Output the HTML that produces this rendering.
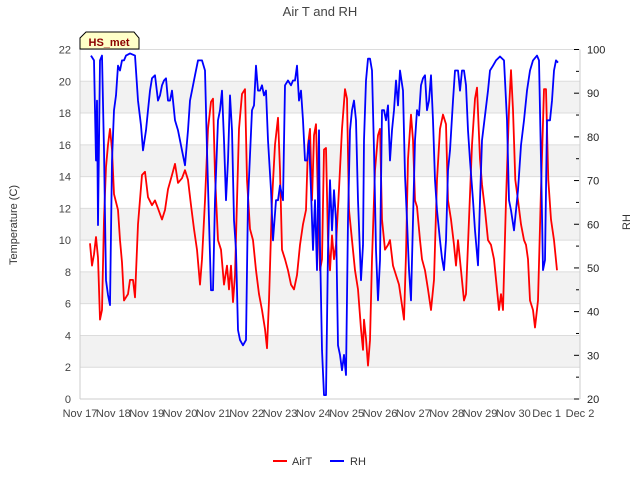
<!DOCTYPE html>
<html><head><meta charset="utf-8"><style>
body{margin:0;background:#fff;}
svg{display:block;font-family:"Liberation Sans","DejaVu Sans",sans-serif;}
</style></head><body>
<svg id="chart" width="640" height="480" viewBox="0 0 640 480">
<text x="320" y="16" text-anchor="middle" font-size="13" fill="#444">Air T and RH</text>
<g id="bands"></g>
<g id="grid"></g>
<g id="xaxis"></g>
<g id="yaxisL"></g>
<g id="yaxisR"></g>
<text transform="translate(17,225) rotate(-90)" text-anchor="middle" font-size="11" fill="#333">Temperature (C)</text>
<text transform="translate(630,222) rotate(-90)" text-anchor="middle" font-size="11" fill="#333">RH</text>
<g id="series"></g>
<g>
<path d="M80,49 L80,38 L86,32 L134,32 L139,38 L139,49 Z" fill="#ffffc8" stroke="#000" stroke-width="1"/>
<text x="109" y="46" text-anchor="middle" font-size="11" font-weight="bold" fill="#8b0000">HS_met</text>
</g>
<g>
<g><line x1="273" y1="461" x2="287" y2="461" stroke="#f00" stroke-width="2"/><text x="292" y="465" font-size="11" fill="#333">AirT</text></g>
<g><line x1="330" y1="461" x2="344" y2="461" stroke="#00f" stroke-width="2"/><text x="350" y="465" font-size="11" fill="#333">RH</text></g>
</g>
</svg>
<script>
const xTickLabels = ["Nov 17","Nov 18","Nov 19","Nov 20","Nov 21","Nov 22","Nov 23","Nov 24","Nov 25","Nov 26","Nov 27","Nov 28","Nov 29","Nov 30","Dec 1","Dec 2"];
const leftTicks = [0,2,4,6,8,10,12,14,16,18,20,22];
const rightTicks = [20,30,40,50,60,70,80,90,100];
const airTDays = [.30,.36,.42,.48,.54,.60,.66,.72,.78,.84,.90,.96,1.02,1.14,1.20,1.26,1.32,1.44,1.50,1.59,1.65,1.74,1.86,1.95,2.04,2.16,2.25,2.34,2.46,2.55,2.64,2.76,2.85,2.94,3.06,3.15,3.24,3.33,3.42,3.51,3.60,3.66,3.75,3.84,3.93,3.99,4.05,4.14,4.23,4.32,4.41,4.47,4.53,4.59,4.65,4.71,4.77,4.86,4.95,5.01,5.10,5.19,5.28,5.37,5.46,5.55,5.61,5.67,5.76,5.85,5.94,6.00,6.06,6.15,6.24,6.33,6.42,6.51,6.60,6.69,6.78,6.84,6.90,6.96,7.02,7.08,7.14,7.20,7.26,7.32,7.38,7.44,7.50,7.56,7.62,7.68,7.77,7.86,7.95,8.01,8.07,8.16,8.25,8.34,8.43,8.49,8.52,8.58,8.64,8.70,8.76,8.85,8.94,9.00,9.06,9.15,9.24,9.30,9.39,9.48,9.57,9.66,9.72,9.78,9.84,9.93,9.99,10.05,10.11,10.20,10.26,10.35,10.44,10.53,10.62,10.71,10.80,10.89,10.98,11.04,11.13,11.22,11.28,11.34,11.43,11.52,11.58,11.67,11.76,11.85,11.91,12.00,12.06,12.15,12.24,12.33,12.42,12.51,12.57,12.63,12.69,12.78,12.87,12.93,12.99,13.06,13.14,13.23,13.32,13.38,13.44,13.50,13.59,13.65,13.74,13.83,13.92,13.98,14.05,14.13,14.22,14.31];
const airTValues = [9.8,8.4,9.1,10.2,8.9,5.0,5.6,11.3,14.6,16.0,17.0,15.7,12.9,11.9,10.0,8.6,6.2,6.6,7.5,7.5,6.4,11.0,14.1,14.3,12.7,12.2,12.5,12.0,11.3,11.9,13.2,14.1,14.8,13.6,13.9,14.4,13.8,12.2,10.7,9.4,7.2,8.8,12.5,17.0,18.7,18.9,14.1,10.0,9.4,7.2,8.4,6.9,8.4,6.1,7.8,12.5,17.0,19.2,19.5,13.8,10.7,10.0,8.1,6.6,5.6,4.4,3.2,6.2,12.5,16.0,17.7,14.4,9.4,8.8,8.1,7.2,6.9,7.8,9.7,11.0,11.9,16.0,17.0,12.5,16.6,17.3,12.5,8.1,8.8,15.7,15.8,10.0,8.1,10.3,8.8,9.7,13.2,17.0,19.5,18.9,11.9,10.0,8.1,6.9,4.4,3.1,5.0,3.8,2.1,3.7,8.8,14.4,16.6,17.0,11.3,9.4,9.7,10.0,8.4,7.8,7.2,5.9,5.0,9.1,15.1,17.9,16.3,12.5,12.1,10.0,8.8,8.1,6.9,5.6,7.5,13.8,17.0,17.9,17.3,12.5,11.3,9.7,8.4,10.0,8.1,6.2,6.6,11.3,16.0,18.9,19.6,15.1,13.5,11.9,10.0,9.7,8.8,6.9,5.6,6.6,5.6,12.5,18.2,20.7,18.2,13.8,12.5,11.0,10.0,9.7,8.8,6.2,5.6,4.5,6.2,13.2,19.5,19.5,13.8,11.3,10.0,8.1];
const rhDays = [.33,.42,.48,.51,.54,.60,.66,.72,.78,.84,.90,.96,1.02,1.08,1.14,1.20,1.26,1.32,1.38,1.50,1.65,1.74,1.83,1.89,1.98,2.04,2.10,2.16,2.25,2.34,2.40,2.46,2.52,2.58,2.64,2.70,2.76,2.85,2.94,3.06,3.15,3.24,3.30,3.36,3.45,3.54,3.66,3.75,3.81,3.87,3.93,3.99,4.05,4.14,4.20,4.26,4.32,4.38,4.44,4.50,4.56,4.62,4.68,4.74,4.80,4.89,4.98,5.04,5.10,5.16,5.22,5.28,5.34,5.40,5.46,5.52,5.58,5.64,5.73,5.79,5.88,5.94,6.00,6.09,6.15,6.24,6.33,6.39,6.45,6.51,6.57,6.63,6.69,6.75,6.81,6.87,6.93,6.99,7.05,7.11,7.17,7.20,7.26,7.32,7.38,7.44,7.50,7.56,7.62,7.68,7.74,7.80,7.86,7.92,7.98,8.04,8.10,8.16,8.22,8.28,8.34,8.43,8.49,8.52,8.58,8.64,8.70,8.76,8.82,8.88,8.94,9.00,9.06,9.12,9.18,9.24,9.30,9.36,9.42,9.48,9.54,9.60,9.69,9.75,9.81,9.87,9.93,9.99,10.05,10.11,10.17,10.23,10.29,10.35,10.41,10.47,10.53,10.59,10.65,10.71,10.80,10.86,10.92,10.98,11.04,11.10,11.19,11.25,11.34,11.40,11.46,11.52,11.58,11.64,11.70,11.79,11.85,11.94,12.00,12.06,12.15,12.24,12.30,12.39,12.48,12.60,12.72,12.81,12.87,12.93,13.02,13.08,13.14,13.23,13.32,13.41,13.50,13.59,13.71,13.77,13.83,13.89,13.95,14.01,14.10,14.16,14.22,14.28,14.34];
const rhValues = [98.6,97.5,74.6,88.3,59.8,97.5,98.6,76.9,47.2,43.8,41.5,74.6,86.1,89.5,96.3,95.2,97.5,97.5,98.6,99.1,98.6,88.3,82.6,76.9,81.5,86.1,90.6,93.4,94.1,88.3,89.5,91.8,92.9,93.4,88.3,88.3,90.6,83.8,81.5,76.9,73.5,81.5,88.3,90.6,94.1,97.5,97.5,95.2,76.9,60.9,44.9,44.9,65.5,83.8,86.1,90.6,79.2,65.5,74.6,89.5,81.5,60.9,54.1,35.8,33.5,32.3,33.5,65.5,75.8,86.1,87.2,96.3,90.6,90.6,91.8,89.5,90.6,79.2,67.8,56.3,65.5,65.5,68.9,65.5,91.8,92.9,91.8,92.9,92.9,96.3,88.3,90.6,83.8,74.6,74.6,79.2,67.8,54.1,65.5,49.5,81.5,55.2,31.2,20.9,20.9,54.1,70.1,58.6,67.8,60.9,32.3,30.1,26.6,30.1,25.5,60.9,81.5,86.1,88.3,83.8,65.5,47.2,55.2,79.2,92.9,97.9,97.9,95.2,76.9,54.1,42.6,51.8,86.1,86.1,83.8,87.2,74.6,81.5,86.1,92.9,87.2,95.2,90.6,71.2,60.9,49.5,42.6,60.9,79.2,86.1,84.9,91.8,93.4,94.1,86.1,88.3,94.1,83.8,70.1,63.2,56.3,52.2,49.5,56.3,72.3,76.9,88.3,95.2,95.2,90.6,95.2,95.2,91.8,81.5,74.6,65.5,58.6,50.6,65.5,79.2,84.9,90.6,95.2,96.3,97.5,98.4,97.5,83.8,65.5,63.2,58.6,63.2,67.8,78.1,83.8,90.6,95.2,97.5,98.6,97.5,74.6,49.5,51.8,83.8,83.8,88.3,95.2,97.5,97.0];

const NS = "http://www.w3.org/2000/svg";
const L = 80, R = 580, T = 49.5, B = 399;
const xS = d => L + d * (R - L) / 15;
const yL = v => B - v * (B - T) / 22;
const yR = v => B - (v - 20) * (B - T) / 80;
function mk(tag, attrs, parent) {
  const e = document.createElementNS(NS, tag);
  for (const k in attrs) e.setAttribute(k, attrs[k]);
  parent.appendChild(e);
  return e;
}
const bands = document.getElementById('bands');
for (let i = 0; i < leftTicks.length - 1; i++) {
  if (i % 2 === 1) {
    const r = mk('rect', {x: L, y: yL(leftTicks[i + 1]), width: R - L, height: yL(leftTicks[i]) - yL(leftTicks[i + 1]), fill: '#f2f2f2'}, bands);
    
    
  }
}
const grid = document.getElementById('grid');
const yl = document.getElementById('yaxisL');
leftTicks.forEach(v => {
  const g = mk('line', {x1: L, x2: R, y1: yL(v), y2: yL(v), stroke: '#dcdcdc', 'stroke-width': 1}, grid);
  
  
  const t = mk('text', {x: 71, y: yL(v) + 4, 'text-anchor': 'end', 'font-size': 11, fill: '#444'}, yl);
  t.textContent = v;
  
  
});
mk('line', {x1: L, x2: L, y1: T, y2: B, stroke: '#ccc'}, grid);
mk('line', {x1: R, x2: R, y1: T, y2: B, stroke: '#ccc'}, grid);
mk('line', {x1: L, x2: R, y1: B, y2: B, stroke: '#ccc'}, grid);
const yr = document.getElementById('yaxisR');
rightTicks.forEach(v => {
  mk('line', {x1: R - 6, x2: R - 1, y1: yR(v), y2: yR(v), stroke: '#000'}, yr);
  if (v < 100) mk('line', {x1: R - 4, x2: R - 1, y1: yR(v + 5), y2: yR(v + 5), stroke: '#000'}, yr);
  const t = mk('text', {x: 587, y: yR(v) + 4, 'font-size': 11, fill: '#222'}, yr);
  t.textContent = v;
  
  
});
const xa = document.getElementById('xaxis');
xTickLabels.forEach((lab, i) => {
  const t = mk('text', {x: xS(i), y: 417, 'text-anchor': 'middle', 'font-size': 11, fill: '#444'}, xa);
  t.textContent = lab;
  
  
});
const series = document.getElementById('series');
function line(days, vals, ys, color, name) {
  const pts = days.map((d, i) => xS(d).toFixed(1) + ',' + ys(vals[i]).toFixed(1)).join(' ');
  const p = mk('polyline', {points: pts, fill: 'none', stroke: color, 'stroke-width': 1.8, 'stroke-linejoin': 'round'}, series);
  
  
}
line(airTDays, airTValues, yL, '#ff0000', 'airt-line');
line(rhDays, rhValues, yR, '#0000ff', 'rh-line');
</script>
</body></html>
